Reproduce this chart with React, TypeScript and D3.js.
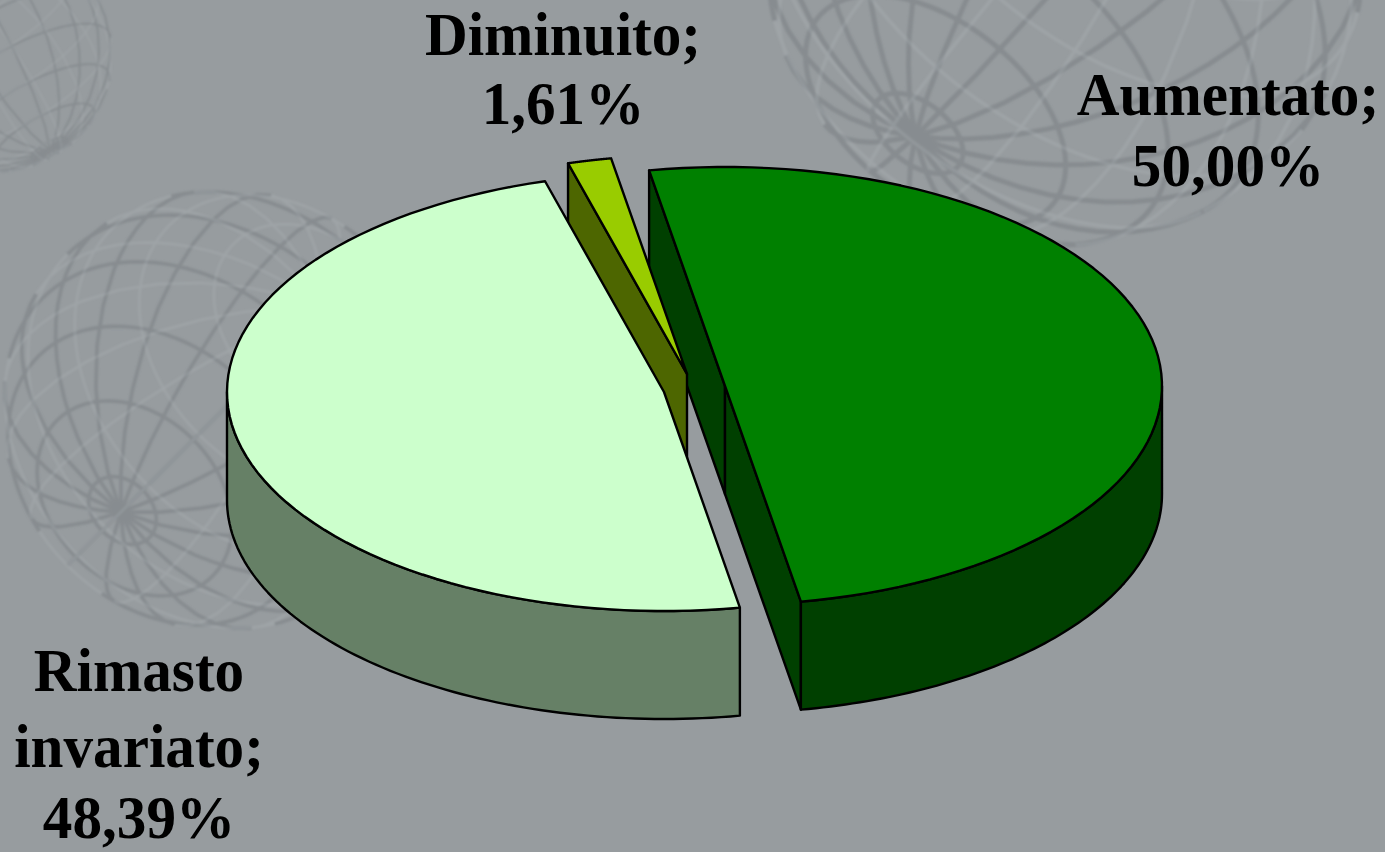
import React from "react";
import * as d3 from "d3";

const categories = ["Aumentato", "Rimasto invariato", "Diminuito"];
const values = [50.0, 48.39, 1.61];
const labelLines = [["Aumentato;", "50,00%"], ["Rimasto", "invariato;", "48,39%"], ["Diminuito;", "1,61%"]];
const topColors = ["#008000", "#ccffcc", "#99cc00"];
const wallColors = ["#004000", "#668066", "#4d6600"];

const W = 1385, H = 852;
const RX = 437, RY = 219, DEPTH = 108;
const START = (-10 * Math.PI) / 180;
const centers = [[725, 386], [664, 392], [687, 374]];
const labelX = [1228, 139, 563];
const labelY = [[115, 186], [691, 767, 838], [55, 124]];
const FONT = 61;
const SQUEEZE = 0.97;

const pieGen = d3.pie<number>().sort(null).startAngle(START).endAngle(START + 2 * Math.PI);
const arcs = pieGen(values);
const lineGen = d3.line<number[]>().x(d => d[0]).y(d => d[1]);

const pt = (c: number[], a: number, dy = 0) => [c[0] + RX * Math.sin(a), c[1] - RY * Math.cos(a) + dy];
const samples = (a0: number, a1: number) => d3.range(0, 81).map(i => d3.interpolateNumber(a0, a1)(i / 80));

function topPath(c: number[], a0: number, a1: number) {
  return lineGen([c, ...samples(a0, a1).map(a => pt(c, a))]) + "Z";
}
function outerWall(c: number[], a0: number, a1: number) {
  const lo = Math.max(a0, Math.PI / 2), hi = Math.min(a1, (3 * Math.PI) / 2);
  if (hi <= lo) return null;
  const s = samples(lo, hi);
  return lineGen([...s.map(a => pt(c, a)), ...s.slice().reverse().map(a => pt(c, a, DEPTH))]) + "Z";
}
function radialWall(c: number[], a: number) {
  const e = pt(c, a);
  return lineGen([c, e, [e[0], e[1] + DEPTH], [c[0], c[1] + DEPTH]]) + "Z";
}

// Faint wire-frame spheres of the slide background
const globes = [
  { c: [223, 410], r: 220, rot: [20, 49, 135] },
  { c: [1065, -55], r: 300, rot: [25, 36, 142] },
  { c: [-5, 55], r: 117, rot: [-30, -20, 30] },
];
const graticule = d3.geoGraticule().step([20, 20])();

function Globe({ c, r, rot }: { c: number[]; r: number; rot: number[] }) {
  const front = d3.geoOrthographic().scale(r).translate(c as [number, number]).clipAngle(90)
    .rotate(rot as [number, number, number]);
  const back = d3.geoOrthographic().scale(r).translate(c as [number, number]).clipAngle(90).reflectX(true)
    .rotate([rot[0] + 180, -rot[1], -rot[2]]);
  return (
    <g fill="none" filter="url(#soft)">
      <path d={d3.geoPath(back)(graticule) || ""} stroke="#787e81" strokeOpacity={0.5} strokeWidth={r / 60} />
      <path d={d3.geoPath(front)(graticule) || ""} stroke="#c0c5c8" strokeOpacity={0.2} strokeWidth={r / 90} />
    </g>
  );
}

export default function App() {
  const [a, r, d] = arcs;
  const edge = { stroke: "#000", strokeWidth: 2.4, strokeLinejoin: "round" as const };
  return (
    <svg width={W} height={H} viewBox={`0 0 ${W} ${H}`} style={{ position: "fixed", left: 0, top: 0, display: "block" }}>
      <defs>
        <filter id="soft" x="-20%" y="-20%" width="140%" height="140%">
          <feGaussianBlur stdDeviation="1" />
        </filter>
      </defs>
      <rect width={W} height={H} fill="#979c9f" />
      {globes.map((g, i) => <Globe key={i} {...g} />)}

      {/* Aumentato */}
      <path d={radialWall(centers[0], a.startAngle)} fill={wallColors[0]} {...edge} />
      <path d={radialWall(centers[0], a.endAngle)} fill={wallColors[0]} {...edge} />
      <path d={outerWall(centers[0], a.startAngle, a.endAngle) || ""} fill={wallColors[0]} {...edge} />
      <path d={topPath(centers[0], a.startAngle, a.endAngle)} fill={topColors[0]} {...edge} />

      {/* Diminuito */}
      <path d={radialWall(centers[2], d.startAngle)} fill={wallColors[2]} {...edge} />
      <path d={topPath(centers[2], d.startAngle, d.endAngle)} fill={topColors[2]} {...edge} />

      {/* Rimasto invariato */}
      <path d={outerWall(centers[1], r.startAngle, r.endAngle) || ""} fill={wallColors[1]} {...edge} />
      <path d={topPath(centers[1], r.startAngle, r.endAngle)} fill={topColors[1]} {...edge} />

      {categories.map((cat, i) =>
        labelLines[i].map((t, j) => (
          <text
            key={cat + t}
            textAnchor="middle"
            fontFamily="'Liberation Serif', serif"
            fontWeight="bold"
            fontSize={FONT}
            fill="#000"
            transform={`translate(${labelX[i]},${labelY[i][j]}) scale(${SQUEEZE},1)`}
          >
            {t}
          </text>
        ))
      )}
    </svg>
  );
}
